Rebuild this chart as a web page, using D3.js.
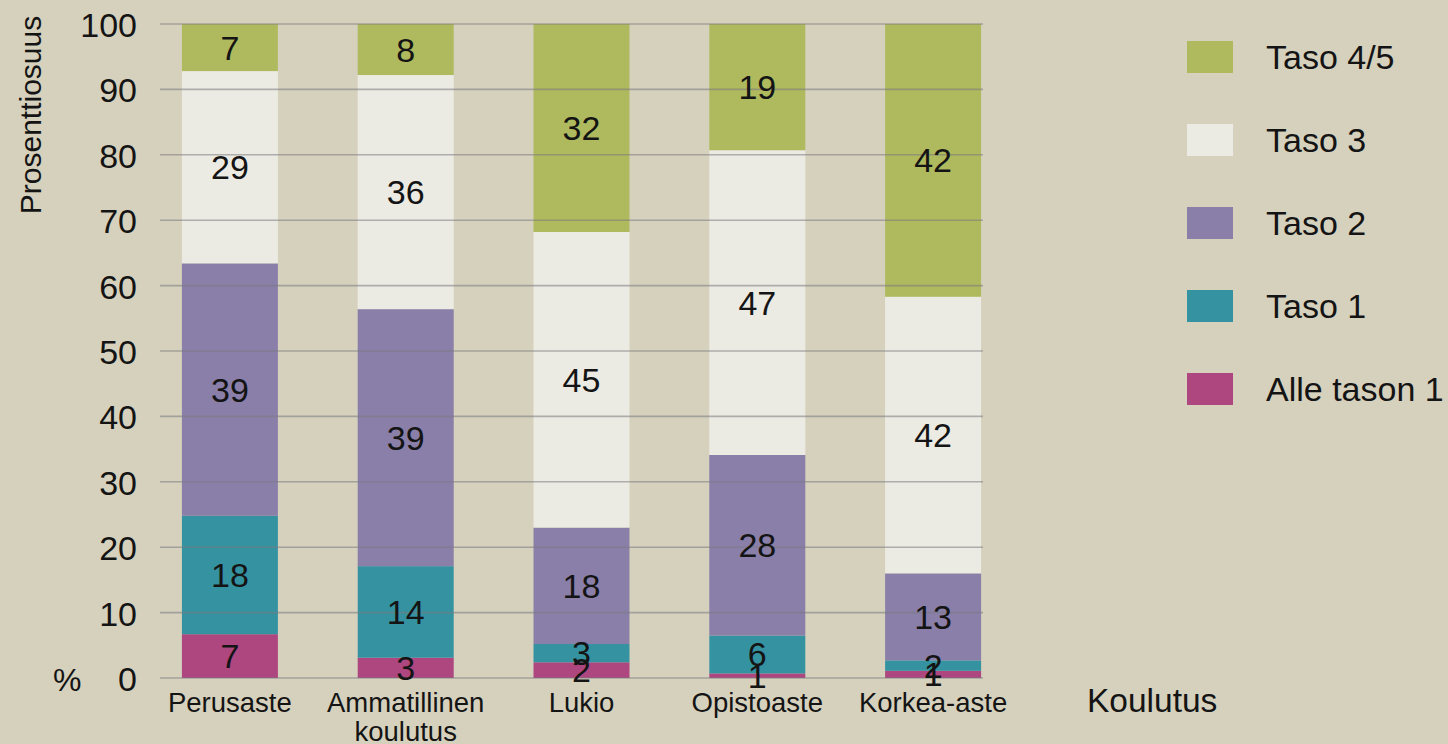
<!DOCTYPE html>
<html lang="fi">
<head>
    <meta charset="UTF-8">
    <title>Koulutus ja taso</title>
    <script src="https://d3js.org/d3.v7.min.js"></script>
    <style>
        html, body {
            margin: 0;
            padding: 0;
            background-color: #d6d1bd;
        }
        svg {
            display: block;
            font-family: "Liberation Sans", Arial, sans-serif;
        }
        .grid line {
            stroke: #7a7a80;
            stroke-width: 1.6px;
            stroke-opacity: 0.55;
        }
        text {
            fill: #141414;
        }
    </style>
</head>
<body>
    <svg id="chart" width="1448" height="744"></svg>

    <script>
        // Data
        const categories = ["Perusaste", "Ammatillinen koulutus", "Lukio", "Opistoaste", "Korkea-aste"];
        const levels = ["Alle tason 1", "Taso 1", "Taso 2", "Taso 3", "Taso 4/5"];
        const alleTason1 = [6.7, 3.1, 2.4, 0.7, 1.1];
        const taso1 = [18.1, 14.0, 2.8, 5.8, 1.6];
        const taso2 = [38.6, 39.3, 17.8, 27.6, 13.3];
        const taso3 = [29.4, 35.8, 45.2, 46.6, 42.3];
        const taso45 = [7.2, 7.8, 31.8, 19.3, 41.7];
        const yTicks = [0, 10, 20, 30, 40, 50, 60, 70, 80, 90, 100];
        const colors = ["#ae4680", "#3592a1", "#897fa9", "#ecebe3", "#afb95d"];

        const series = [alleTason1, taso1, taso2, taso3, taso45];

        // Build rows for d3.stack
        const rows = categories.map((c, i) => {
            const row = {category: c};
            levels.forEach((l, j) => { row[l] = series[j][i]; });
            return row;
        });

        const stacked = d3.stack().keys(levels)(rows);

        const svg = d3.select("#chart");

        // Scales
        const x = d3.scaleBand()
            .domain(categories)
            .range([142, 1021])
            .paddingInner(0.454)
            .paddingOuter(0.227);

        const y = d3.scaleLinear()
            .domain([0, 100])
            .range([678, 24]);

        const color = d3.scaleOrdinal().domain(levels).range(colors);

        // Bars
        svg.append("g")
            .selectAll("g")
            .data(stacked)
            .join("g")
            .attr("fill", d => color(d.key))
            .selectAll("rect")
            .data(d => d)
            .join("rect")
            .attr("x", d => x(d.data.category))
            .attr("y", d => y(d[1]))
            .attr("width", x.bandwidth())
            .attr("height", d => y(d[0]) - y(d[1]));

        // Gridlines on top of the bars (they show through in the original)
        svg.append("g")
            .attr("class", "grid")
            .selectAll("line")
            .data(yTicks)
            .join("line")
            .attr("x1", 160)
            .attr("x2", 983)
            .attr("y1", d => y(d))
            .attr("y2", d => y(d));

        // Segment labels
        svg.append("g")
            .selectAll("g")
            .data(stacked)
            .join("g")
            .selectAll("text")
            .data(d => d)
            .join("text")
            .attr("x", d => x(d.data.category) + x.bandwidth() / 2)
            .attr("y", d => (y(d[0]) + y(d[1])) / 2 + 12)
            .attr("text-anchor", "middle")
            .style("font-size", "34px")
            .text(d => Math.round(d[1] - d[0]));

        // Y axis tick labels
        svg.append("g")
            .selectAll("text")
            .data(yTicks)
            .join("text")
            .attr("x", 137)
            .attr("y", d => y(d) + 13)
            .attr("text-anchor", "end")
            .style("font-size", "34px")
            .text(d => d);

        svg.append("text")
            .attr("x", 53)
            .attr("y", y(0) + 13)
            .style("font-size", "32px")
            .text("%");

        svg.append("text")
            .attr("transform", "translate(41,115) rotate(-90)")
            .attr("text-anchor", "middle")
            .style("font-size", "30px")
            .text("Prosenttiosuus");

        // X category labels (wrap on space for the long one)
        svg.append("g")
            .selectAll("text")
            .data(categories)
            .join("text")
            .attr("x", d => x(d) + x.bandwidth() / 2)
            .attr("y", 712)
            .attr("text-anchor", "middle")
            .style("font-size", "27.5px")
            .each(function(d) {
                const words = d.split(" ");
                const t = d3.select(this);
                words.forEach((w, i) => {
                    t.append("tspan")
                        .attr("x", x(d) + x.bandwidth() / 2)
                        .attr("dy", i === 0 ? 0 : 29)
                        .text(w);
                });
            });

        svg.append("text")
            .attr("x", 1087)
            .attr("y", 712)
            .style("font-size", "33.5px")
            .text("Koulutus");

        // Legend, top entry is the top of the stack
        const legendOrder = levels.slice().reverse();
        const legend = svg.append("g")
            .selectAll("g")
            .data(legendOrder)
            .join("g")
            .attr("transform", (d, i) => `translate(1187,${57 + i * 83})`);

        legend.append("rect")
            .attr("x", 0)
            .attr("y", -16)
            .attr("width", 46)
            .attr("height", 32)
            .attr("fill", d => color(d));

        legend.append("text")
            .attr("x", 79)
            .attr("y", 12)
            .style("font-size", "34px")
            .text(d => d);
    </script>
</body>
</html>
